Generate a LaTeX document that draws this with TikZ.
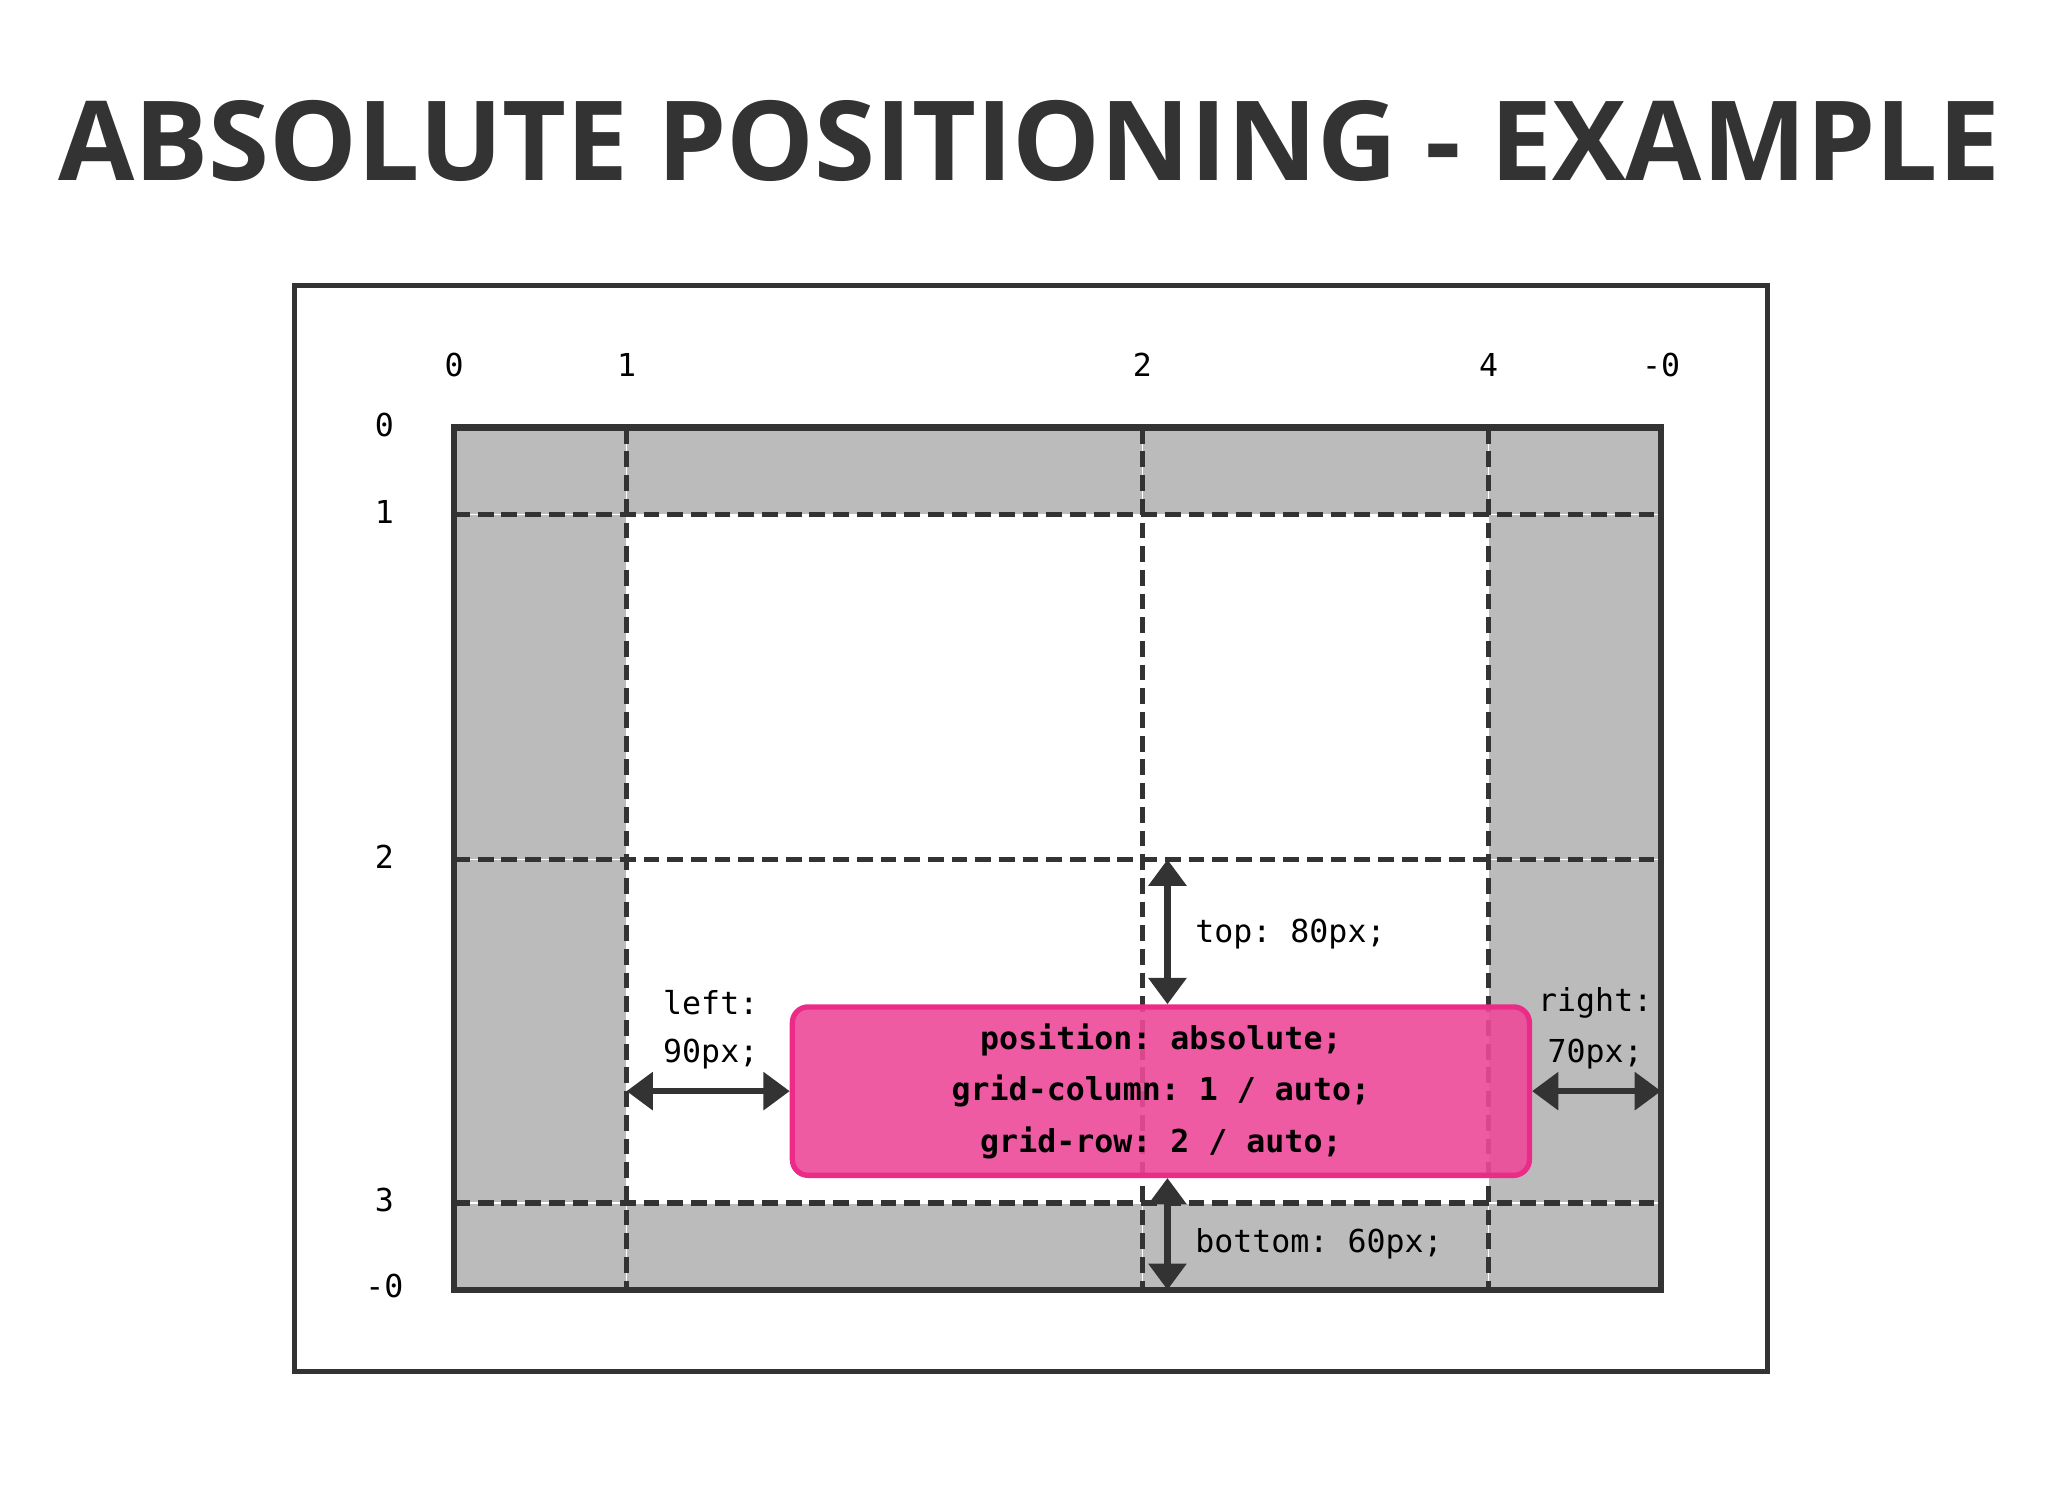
\documentclass[tikz,border=0pt]{standalone}
\usepackage{fontspec}
\setmainfont{Open Sans}
\setmonofont{DejaVu Sans Mono}
\usetikzlibrary{arrows.meta}
\definecolor{dk}{HTML}{333333}
\definecolor{gr}{HTML}{BBBBBB}
\definecolor{pk}{HTML}{EE4A9A}
\definecolor{pkb}{HTML}{EC2A88}
\tikzset{
 gl/.style={dk,line width=4pt,dash pattern=on 12pt off 6pt},
 gw/.style={white,line width=1.2pt},
 dim/.style={dk,line width=5pt,{Triangle[length=20pt,width=28pt]}-{Triangle[length=20pt,width=28pt]}},
 lbl/.style={font=\ttfamily\fontsize{24}{28}\selectfont,text=black,inner sep=0pt},
 code/.style={font=\ttfamily\bfseries\fontsize{24}{39}\selectfont,align=center,text=black,inner sep=0pt}
}
\begin{document}
\begin{tikzpicture}[x=1pt,y=-1pt]
\useasboundingbox (0,0) rectangle (1556,1134);
\node[font=\bfseries\fontsize{84}{90}\selectfont,text=dk] (title) at (782,107) {ABSOLUTE POSITIONING - EXAMPLE};
\draw[dk,line width=4pt] (224,217) rectangle (1343,1042);
\fill[gr] (345,325) rectangle (1262,980);
\fill[white] (476,391) rectangle (1131,914);
\foreach \x in {476,868,1131}{\draw[gw] (\x,325)--(\x,980);}
\foreach \y in {391,653,914}{\draw[gw] (345,\y)--(1262,\y);}
\foreach \x in {476,868,1131}{\draw[gl] (\x,325)--(\x,980);}
\foreach \y in {391,653,914}{\draw[gl] (345,\y)--(1262,\y);}
\draw[dk,line width=5pt] (345,325) rectangle (1262,980);
\foreach \t/\x in {0/345,1/476,2/868,4/1131,-0/1262}{\node[lbl] at (\x,277) {\t};}
\foreach \t/\y in {0/323,1/389,2/651,3/912,-0/977}{\node[lbl] at (292,\y) {\t};}
\node[draw=pkb,line width=4pt,fill=pk,fill opacity=0.9,text opacity=1,rounded corners=12pt,minimum width=560pt,minimum height=128pt,code] (box) at (882,829) {position: absolute;\\grid-column: 1 / auto;\\grid-row: 2 / auto;};
\coordinate (tA) at (887,653); \coordinate (bA) at (887,980);
\coordinate (lA) at (476,829); \coordinate (rA) at (1262,829);
\draw[dim] (tA) -- (887,763);
\draw[dim] (887,895) -- (bA);
\draw[dim] (lA) -- (box.west);
\draw[dim] (box.east) -- (rA);
\node[lbl,anchor=west] at (908,710) {top: 80px;};
\node[lbl,anchor=west] at (908,945) {bottom: 60px;};
\node[lbl] at (540,762) {left:};
\node[lbl] at (540,801) {90px;};
\node[lbl] at (1212,762) {right:};
\node[lbl] at (1212,801) {70px;};
\end{tikzpicture}
\end{document}
